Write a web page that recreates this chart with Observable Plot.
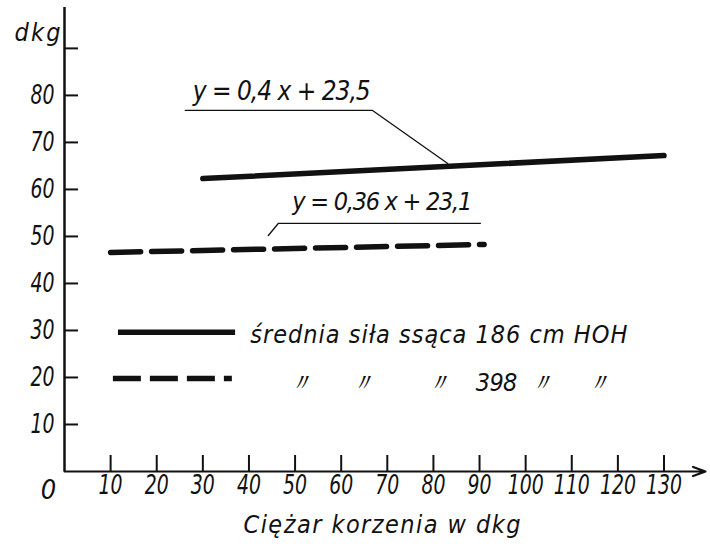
<!DOCTYPE html>
<html><head><meta charset="utf-8">
<script src="https://cdn.jsdelivr.net/npm/d3@7"></script>
<script src="https://cdn.jsdelivr.net/npm/@observablehq/plot@0.6"></script>
<style>
html,body{margin:0;padding:0;background:#fff}
svg text{white-space:pre}
</style>
</head><body><div id="chart"></div>
<script>
// ---- data ----
const xTicks = [10, 20, 30, 40, 50, 60, 70, 80, 90, 100, 110, 120, 130];
const yTicks = [10, 20, 30, 40, 50, 60, 70, 80];
const yExtraTicks = [90];
const xMax = 139;
const yMax = 98.7;

// średnia siła ssąca 186 cm HOH (solid)
const solidX = [30, 130];
const solidY = [62.3, 67.2];
// średnia siła ssąca 398 cm HOH (dashed)
const dashedX = [10, 91];
const dashedY = [46.6, 48.3];

const eq1Text = "y = 0,4 x + 23,5";
const eq2Text = "y = 0,36 x + 23,1";
// annotation anchors (data units)
const eq1Pos = [27.8, 79.1];
const eq1Leader = [[26.2, 76.8], [66.8, 76.8], [83.1, 65.5]];
const eq2Pos = [49.4, 55.7];
const eq2Leader = [[90.2, 52.8], [46.4, 52.8], [44.2, 50.2]];

const legendLabels = ["średnia siła ssąca 186 cm HOH", "〃      〃        〃    398  〃     〃"];
const legendLineX = [[11.7, 37.1], [10.6, 36.4]];
const legendLineY = [29.6, 19.8];
const legendTextPos = [[40.3, 27.4], [48.4, 17.2]];

const xLabel = "Ciężar korzenia w dkg";
const yLabel = "dkg";

// ---- build tables ----
const solid = solidX.map((x, i) => ({x, y: solidY[i]}));
const dashed = dashedX.map((x, i) => ({x, y: dashedY[i]}));
const leg = legendLabels.map((t, i) => ({
  t, x1: legendLineX[i][0], x2: legendLineX[i][1], y: legendLineY[i],
  tx: legendTextPos[i][0], ty: legendTextPos[i][1]
}));
const l1 = eq1Leader.map(([x, y]) => ({x, y}));
const l2 = eq2Leader.map(([x, y]) => ({x, y}));

const font = "'Liberation Sans Narrow','DejaVu Sans Condensed','Liberation Sans',sans-serif";

const chart = Plot.plot({
  width: 710, height: 547,
  marginLeft: 64, marginRight: 5, marginTop: 7, marginBottom: 76,
  style: {fontFamily: font, fontStyle: "italic", color: "#111", background: "#fff"},
  x: {domain: [0, xMax], axis: null},
  y: {domain: [0, yMax], axis: null},
  marks: [
    // axes lines
    Plot.ruleX([0], {y1: 0, y2: yMax, stroke: "#111", strokeWidth: 2.5}),
    Plot.arrow([{x1: 0, y1: 0, x2: xMax, y2: 0}], {x1: "x1", y1: "y1", x2: "x2", y2: "y2", stroke: "#111", strokeWidth: 2.2, headLength: 9, headAngle: 40}),
    // tick marks (pointing into the plot)
    Plot.ruleY(yTicks.concat(yExtraTicks), {y: d => d, x1: 0, x2: 0, insetRight: -14, stroke: "#111", strokeWidth: 2}),
    Plot.ruleX(xTicks, {x: d => d, y1: 0, y2: 0, insetTop: -16, stroke: "#111", strokeWidth: 2}),
    // tick labels
    Plot.axisY(yTicks, {anchor: "left", tickSize: 0, tickPadding: 10, label: null}),
    Plot.axisX(xTicks, {anchor: "bottom", tickSize: 0, tickPadding: 3, label: null}),
    Plot.text(["0"], {x: 0, y: 0, dx: -16, dy: 8, lineAnchor: "top", fontSize: 27}),
    // axis titles
    Plot.text([xLabel], {frameAnchor: "bottom", lineAnchor: "bottom", dx: -3, dy: 61, fontSize: 25}),
    Plot.text([yLabel], {frameAnchor: "top-left", textAnchor: "end", lineAnchor: "bottom", dx: -4, dy: 33, fontSize: 25}),
    // data lines
    Plot.line(solid, {x: "x", y: "y", stroke: "#111", strokeWidth: 5.5, strokeLinecap: "round"}),
    Plot.line(dashed, {x: "x", y: "y", stroke: "#111", strokeWidth: 5.5, strokeDasharray: "30,11"}),
    // annotations
    Plot.line(l1, {x: "x", y: "y", stroke: "#111", strokeWidth: 1.3}),
    Plot.line(l2, {x: "x", y: "y", stroke: "#111", strokeWidth: 1.3}),
    Plot.text([eq1Text], {x: eq1Pos[0], y: eq1Pos[1], textAnchor: "start", lineAnchor: "bottom", fontSize: 26}),
    Plot.text([eq2Text], {x: eq2Pos[0], y: eq2Pos[1], textAnchor: "start", lineAnchor: "bottom", fontSize: 25}),
    // legend
    Plot.ruleY(leg.slice(0, 1), {y: "y", x1: "x1", x2: "x2", stroke: "#111", strokeWidth: 5.5}),
    Plot.ruleY(leg.slice(1), {y: "y", x1: "x1", x2: "x2", stroke: "#111", strokeWidth: 5.5, strokeDasharray: "28,9"}),
    Plot.text(leg, {x: "tx", y: "ty", text: "t", textAnchor: "start", lineAnchor: "bottom", fontSize: 25})
  ]
});

// stretch lettering to the reference's wide technical spacing
const widths = new Map([
  [eq1Text, 178], [eq2Text, 180], [legendLabels[0], 377], [legendLabels[1], 323],
  [xLabel, 277], [yLabel, 46]
]);
d3.select(chart).selectAll("text").each(function () {
  const w = widths.get(this.textContent);
  if (w) { this.setAttribute("textLength", w); this.setAttribute("lengthAdjust", "spacing"); }
});
// larger, narrow numerals on the axes
d3.select(chart).selectAll('g[aria-label="y-axis tick label"]').attr("font-size", 26).style("font-size", "26px");
d3.select(chart).selectAll('g[aria-label="x-axis tick label"]').attr("font-size", 27).style("font-size", "27px");
d3.select(chart).selectAll('g[aria-label="x-axis tick label"] text, g[aria-label="y-axis tick label"] text').each(function () {
  const n = this.textContent.length;
  this.setAttribute("textLength", n === 3 ? 36 : 24);
  this.setAttribute("lengthAdjust", "spacingAndGlyphs");
});
document.getElementById("chart").appendChild(chart);
</script>
</body></html>
